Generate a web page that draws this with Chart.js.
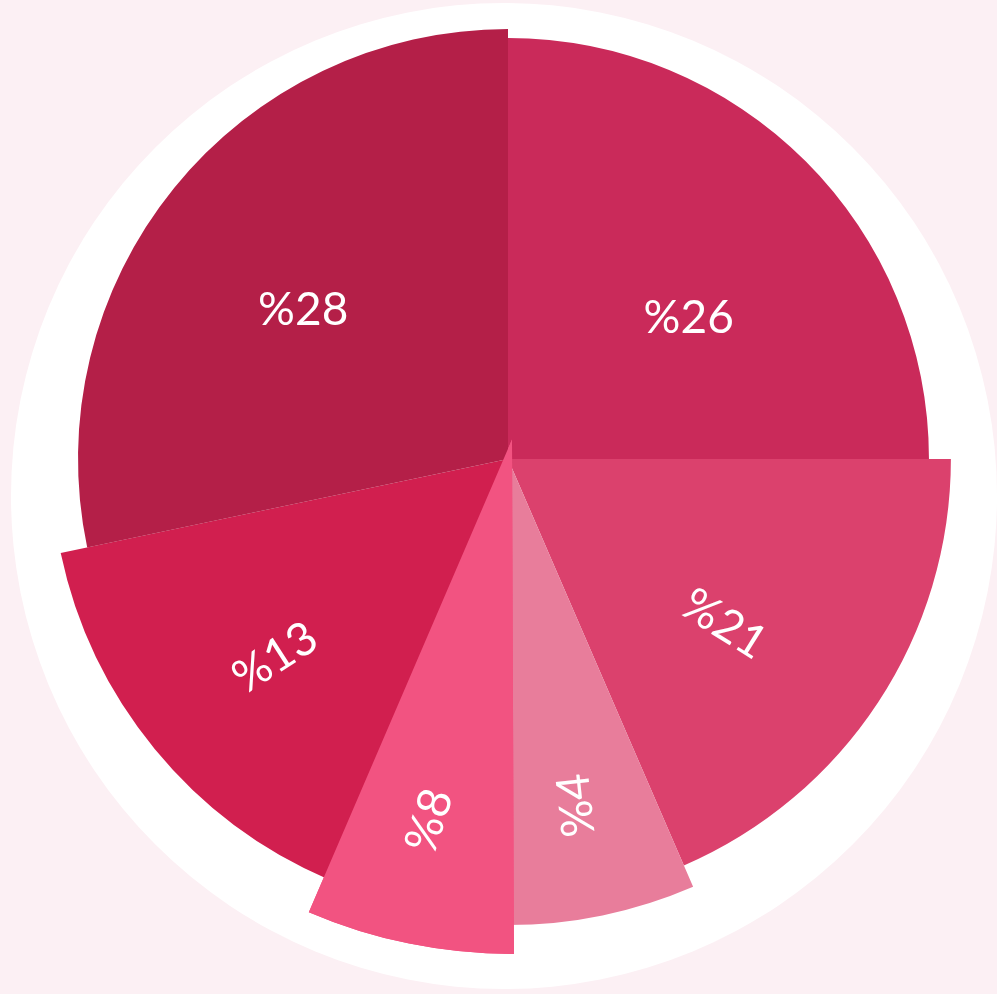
<!DOCTYPE html>
<html>
<head>
<meta charset="utf-8">
<script src="https://cdn.jsdelivr.net/npm/chart.js@4.4.1/dist/chart.umd.min.js"></script>
<style>
  html, body { margin: 0; padding: 0; background: #fcf0f4; }
  #wrap { position: relative; width: 997px; height: 994px; overflow: hidden; }
  #disc { position: absolute; left: 11px; top: 3px; width: 986px; height: 986px; border-radius: 50%; background: #fff; }
  #box { position: absolute; left: 0; top: 0; width: 997px; height: 994px; }
</style>
</head>
<body>
<div id="wrap">
  <div id="disc"></div>
  <div id="box"><canvas id="pie"></canvas></div>
</div>
<script>
// printed labels, clockwise from 12 o'clock
var percentLabels = ['%26', '%21', '%4', '%8', '%13', '%28'];
// slice sizes as drawn (share of the full turn)
var sliceShare = [25.0, 18.5, 6.5, 6.4, 15.3, 28.3];

var sliceColors = ['#ca2a5a', '#db416d', '#e87d9b', '#f25381', '#d11f4f', '#b41f48'];
var radiusScale = [0.979, 1.03, 1.084, 1.225, 1.063, 1.0];
var sliceOffset = [0, 0, 0, -80, 0, 0];
var labelDist = [229, 272, 353, 370, 306, 253];
var labelTurn = [7.1, 4.1, 0.5, 0.7, -1.1, -3.1];
var labelRotate = [0, 32, -96, -72, -33, 0];
var topSlice = 3;

var shapePlugin = {
    id: 'shape',
    afterDatasetUpdate: function(chart, args) {
        var arcs = chart.getDatasetMeta(args.index).data;
        arcs.forEach(function(arc, i) {
            arc.outerRadius = arc.outerRadius * radiusScale[i];
        });
    },
    afterDatasetDraw: function(chart, args) {
        // the pulled-out slice sits above its neighbours
        var arc = chart.getDatasetMeta(args.index).data[topSlice];
        arc.draw(chart.ctx);
    },
    afterDatasetsDraw: function(chart) {
        var ctx = chart.ctx;
        var arcs = chart.getDatasetMeta(0).data;
        ctx.save();
        ctx.fillStyle = '#ffffff';
        ctx.font = '46px Lato';
        ctx.textAlign = 'center';
        ctx.textBaseline = 'middle';
        arcs.forEach(function(arc, i) {
            var mid = (arc.startAngle + arc.endAngle) / 2 + labelTurn[i] * Math.PI / 180;
            var x = arc.x + Math.cos(mid) * labelDist[i];
            var y = arc.y + Math.sin(mid) * labelDist[i];
            ctx.save();
            ctx.translate(x, y);
            ctx.rotate(labelRotate[i] * Math.PI / 180);
            ctx.fillText(percentLabels[i], 0, 0);
            ctx.restore();
        });
        ctx.restore();
    }
};

var chart = new Chart(document.getElementById('pie'), {
    type: 'pie',
    data: {
        labels: percentLabels,
        datasets: [{
            data: sliceShare,
            backgroundColor: sliceColors,
            borderWidth: 0,
            offset: sliceOffset,
            hoverOffset: 0
        }]
    },
    options: {
        responsive: true,
        maintainAspectRatio: false,
        animation: false,
        events: [],
        radius: 430,
        layout: { padding: { left: 19, right: 0, top: 0, bottom: 76 } },
        plugins: {
            legend: { display: false },
            tooltip: { enabled: false }
        }
    },
    plugins: [shapePlugin]
});
</script>
</body>
</html>
